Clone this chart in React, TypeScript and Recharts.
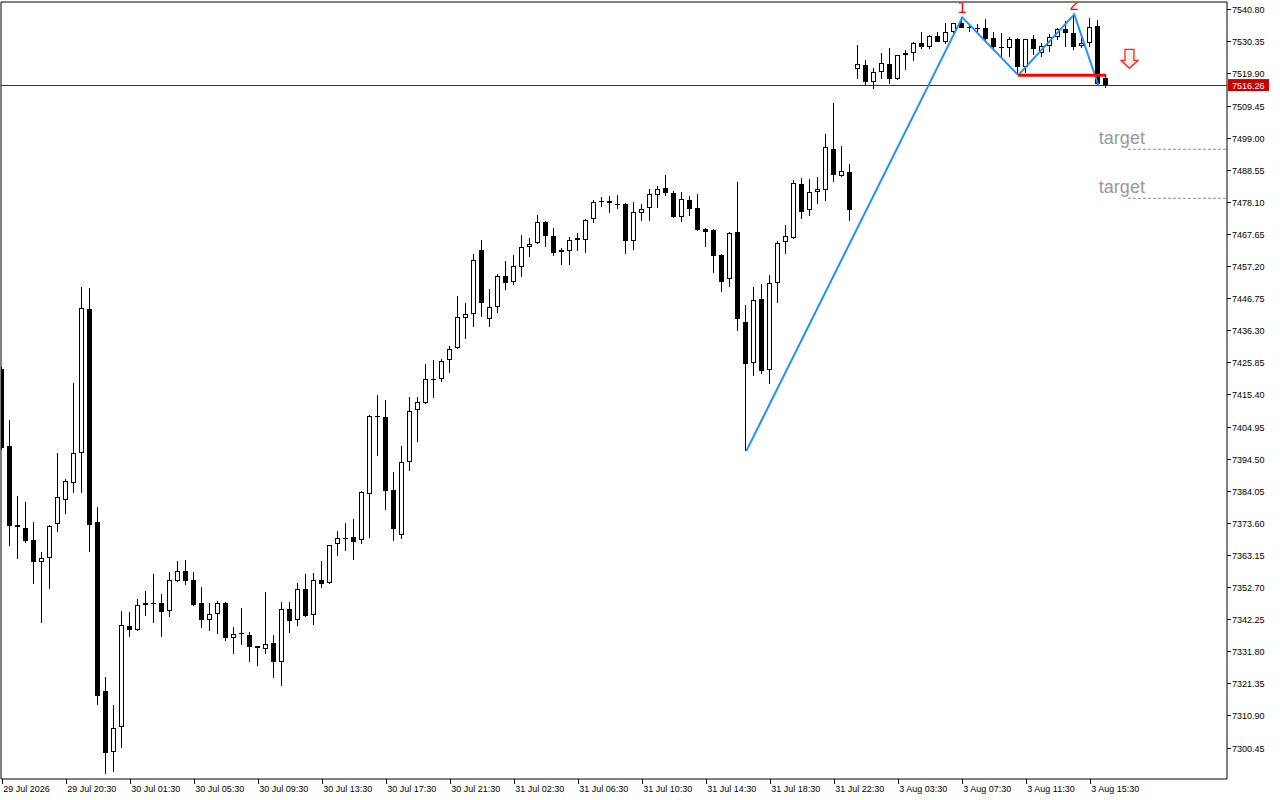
import React from 'react';
import {
  ComposedChart,
  Bar,
  Line,
  XAxis,
  YAxis,
  ReferenceLine,
  ReferenceArea,
  ReferenceDot,
} from 'recharts';

// 30-minute candles
const OPEN = [
  7423.8, 7398.8, 7373.2, 7372.1, 7368.2, 7361.1, 7362.2, 7373.3, 7381.1, 7386.6,
  7396.6, 7443.3, 7373.9, 7318.9, 7299.2, 7307.2, 7340.2, 7338.9, 7346.9, 7347.7,
  7347.7, 7345.2, 7354.9, 7358.0, 7355.0, 7347.7, 7342.2, 7344.0, 7347.7, 7336.4,
  7337.8, 7337.1, 7333.6, 7332.8, 7334.6, 7328.5, 7345.6, 7342.1, 7352.1, 7343.6,
  7355.0, 7354.1, 7366.8, 7368.9, 7369.1, 7368.1, 7383.0, 7408.5, 7408.2, 7384.4,
  7369.9, 7393.5, 7410.4, 7412.7, 7420.6, 7420.7, 7426.7, 7430.6, 7440.3, 7441.6,
  7462.5, 7440.0, 7444.1, 7454.0, 7452.1, 7456.9, 7463.5, 7464.8, 7471.6, 7467.0,
  7461.8, 7462.1, 7466.5, 7465.9, 7472.6, 7478.4, 7478.4, 7477.5, 7477.5, 7465.4,
  7474.5, 7476.2, 7480.4, 7482.7, 7481.0, 7473.4, 7478.8, 7476.2, 7469.4, 7469.1,
  7460.9, 7453.0, 7468.4, 7439.0, 7425.7, 7446.6, 7423.6, 7451.9, 7465.1, 7466.6,
  7484.0, 7475.5, 7481.4, 7482.0, 7495.5, 7486.8, 7488.0, 7521.4, 7522.8, 7517.2,
  7520.4, 7523.0, 7518.3, 7526.0, 7526.6, 7529.9, 7528.8, 7532.1, 7530.4, 7533.6,
  7536.4, 7535.1, 7534.9, 7534.8, 7531.5, 7528.8, 7528.2, 7531.2, 7522.3, 7531.2,
  7526.8, 7529.1, 7532.0, 7534.4, 7533.1, 7529.0, 7530.1, 7535.5, 7518.5,
];
const HIGH = [
  7424.5, 7407.2, 7382.5, 7380.5, 7374.0, 7364.2, 7373.0, 7396.5, 7388.0, 7419.3,
  7450.6, 7450.2, 7378.9, 7323.6, 7314.5, 7345.0, 7344.7, 7349.0, 7351.6, 7357.1,
  7350.6, 7357.6, 7361.3, 7361.7, 7357.6, 7352.9, 7347.6, 7348.3, 7347.9, 7339.8,
  7346.0, 7338.2, 7333.8, 7351.1, 7337.2, 7347.9, 7348.0, 7354.2, 7357.1, 7357.4,
  7361.3, 7366.6, 7371.1, 7373.6, 7375.0, 7384.0, 7408.9, 7415.4, 7413.7, 7390.3,
  7398.8, 7414.7, 7414.8, 7425.5, 7426.8, 7427.1, 7431.4, 7447.6, 7445.3, 7461.3,
  7465.8, 7449.9, 7454.8, 7459.0, 7460.9, 7467.5, 7466.5, 7474.1, 7471.9, 7469.6,
  7463.1, 7466.8, 7468.1, 7472.7, 7478.9, 7479.9, 7480.2, 7480.5, 7477.8, 7478.1,
  7477.6, 7482.3, 7483.3, 7487.0, 7481.7, 7481.4, 7480.1, 7480.8, 7469.8, 7469.3,
  7461.3, 7468.5, 7484.6, 7444.7, 7450.5, 7451.5, 7454.4, 7465.5, 7470.7, 7485.4,
  7486.1, 7485.7, 7486.4, 7500.3, 7510.5, 7496.4, 7490.6, 7529.3, 7524.4, 7521.7,
  7526.8, 7528.3, 7526.1, 7527.7, 7530.4, 7533.4, 7532.7, 7533.6, 7536.4, 7536.5,
  7538.3, 7535.8, 7536.0, 7537.8, 7533.4, 7533.3, 7532.0, 7531.7, 7531.4, 7532.6,
  7529.9, 7532.9, 7534.9, 7537.2, 7539.3, 7532.6, 7538.0, 7537.5, 7519.5,
];
const LOW = [
  7397.5, 7366.3, 7362.1, 7367.3, 7353.9, 7341.2, 7352.3, 7370.9, 7376.7, 7383.6,
  7383.6, 7364.4, 7314.5, 7292.1, 7292.7, 7300.4, 7336.5, 7338.7, 7343.5, 7341.2,
  7336.7, 7343.2, 7354.6, 7353.6, 7346.7, 7339.6, 7338.7, 7337.6, 7335.4, 7331.2,
  7334.1, 7328.5, 7327.2, 7331.0, 7323.3, 7320.7, 7337.8, 7340.3, 7343.2, 7340.4,
  7352.6, 7353.9, 7363.1, 7364.7, 7361.7, 7366.8, 7368.9, 7395.6, 7378.0, 7367.9,
  7368.6, 7390.7, 7400.2, 7412.4, 7414.5, 7419.6, 7422.6, 7430.5, 7433.5, 7437.6,
  7440.9, 7437.6, 7442.0, 7449.5, 7451.3, 7453.9, 7460.4, 7464.6, 7463.6, 7460.7,
  7457.7, 7457.7, 7462.3, 7461.7, 7471.5, 7476.5, 7474.7, 7476.0, 7461.4, 7462.5,
  7472.1, 7472.1, 7476.4, 7480.3, 7473.1, 7471.8, 7473.7, 7468.7, 7463.6, 7455.2,
  7449.0, 7450.6, 7436.3, 7397.1, 7421.6, 7422.1, 7418.9, 7445.4, 7461.2, 7466.1,
  7472.8, 7473.7, 7477.6, 7478.5, 7484.8, 7486.4, 7472.1, 7518.2, 7516.1, 7515.1,
  7518.2, 7516.6, 7517.9, 7521.2, 7524.1, 7528.0, 7528.1, 7530.3, 7529.7, 7533.3,
  7534.7, 7533.4, 7533.4, 7530.4, 7527.5, 7525.5, 7525.5, 7519.5, 7520.1, 7526.1,
  7525.5, 7527.1, 7530.9, 7528.8, 7527.7, 7528.2, 7528.8, 7516.3, 7515.2,
];
const CLOSE = [
  7398.1, 7372.8, 7372.5, 7367.9, 7361.1, 7362.3, 7372.7, 7382.1, 7387.4, 7396.4,
  7443.6, 7373.2, 7317.5, 7298.9, 7306.9, 7340.4, 7338.8, 7346.9, 7347.6, 7347.5,
  7344.8, 7355.0, 7358.0, 7354.9, 7347.1, 7342.2, 7344.0, 7347.7, 7336.4, 7337.5,
  7337.8, 7333.4, 7332.9, 7334.2, 7328.5, 7345.6, 7341.7, 7352.1, 7343.5, 7355.0,
  7353.9, 7366.4, 7368.7, 7368.9, 7367.6, 7383.7, 7408.5, 7408.4, 7384.2, 7371.9,
  7393.6, 7410.2, 7413.0, 7420.5, 7420.6, 7426.3, 7430.2, 7440.7, 7441.6, 7459.2,
  7445.2, 7444.1, 7454.0, 7451.9, 7457.3, 7463.5, 7464.4, 7471.6, 7467.2, 7461.7,
  7462.6, 7465.7, 7465.9, 7472.2, 7478.1, 7478.0, 7477.8, 7477.1, 7465.6, 7474.9,
  7475.8, 7480.7, 7482.3, 7481.2, 7473.4, 7479.1, 7476.0, 7469.1, 7468.5, 7460.7,
  7452.2, 7468.2, 7440.0, 7425.4, 7446.2, 7423.2, 7451.7, 7464.8, 7467.0, 7484.3,
  7475.1, 7481.4, 7482.3, 7496.0, 7486.9, 7488.2, 7475.6, 7523.1, 7517.4, 7520.4,
  7523.4, 7518.3, 7526.0, 7526.7, 7530.0, 7528.8, 7532.1, 7530.4, 7533.4, 7536.4,
  7534.9, 7534.9, 7534.9, 7531.2, 7528.6, 7528.8, 7531.4, 7522.1, 7531.2, 7527.9,
  7529.0, 7532.0, 7534.4, 7533.1, 7528.8, 7530.1, 7535.1, 7516.5, 7516.26,
];

const TIME_TICKS = [0, 8, 16, 24, 32, 40, 48, 56, 64, 72, 80, 88, 96, 104, 112, 120, 128, 136];
const TIME_LABELS = [
  '29 Jul 2026', '29 Jul 20:30', '30 Jul 01:30', '30 Jul 05:30', '30 Jul 09:30',
  '30 Jul 13:30', '30 Jul 17:30', '30 Jul 21:30', '31 Jul 02:30', '31 Jul 06:30',
  '31 Jul 10:30', '31 Jul 14:30', '31 Jul 18:30', '31 Jul 22:30', '3 Aug 03:30',
  '3 Aug 07:30', '3 Aug 11:30', '3 Aug 15:30',
];
const PRICE_TICKS = [
  7540.8, 7530.35, 7519.9, 7509.45, 7499.0, 7488.55, 7478.1, 7467.65, 7457.2, 7446.75,
  7436.3, 7425.85, 7415.4, 7404.95, 7394.5, 7384.05, 7373.6, 7363.15, 7352.7, 7342.25,
  7331.8, 7321.35, 7310.9, 7300.45,
];

// pattern drawn on top: zigzag pivots, peaks, neckline, targets
const ZIGZAG_IDX = [93, 120, 127, 134, 137];
const ZIGZAG_PRICE = [7397.1, 7538.3, 7519.5, 7539.3, 7516.3];
const PEAK_IDX = [120, 134];
const PEAK_TEXT = ['1', '2'];
const NECK_FROM = 127;
const NECK_TO = 138;
const NECK_PRICE = 7519.5;
const TARGETS = [7495.36, 7479.4];
const TARGET_FROM = 140.7;
const ARROW_AT = [140.9, 7527.9];
const LAST_PRICE = 7516.26;

const X_MIN = -0.16;
const X_MAX = 153.09;
const Y_MIN = 7290.36;
const Y_MAX = 7543.31;

const FONT = '"Liberation Sans", Arial, sans-serif';

const data = OPEN.map((o, i) => {
  const z = ZIGZAG_IDX.indexOf(i);
  return {
    i,
    open: o,
    high: HIGH[i],
    low: LOW[i],
    close: CLOSE[i],
    range: [LOW[i], HIGH[i]],
    zz: z >= 0 ? ZIGZAG_PRICE[z] : null,
  };
});

function Candle(props: any) {
  const { x, y, width, height, payload } = props;
  if (x == null || y == null) return null;
  const { open, high, low, close } = payload;
  const top = Math.min(y, y + height);
  const h = Math.abs(height);
  const span = high - low || 1;
  const py = (v: number) => top + ((high - v) / span) * h;
  const cx = Math.floor(x + width / 2) + 0.5;
  const bTop = py(Math.max(open, close));
  const bBot = py(Math.min(open, close));
  const bh = bBot - bTop;
  let body;
  if (bh < 1.5) {
    body = <rect x={cx - 2.5} y={Math.round(bTop) - 0.5} width={5} height={Math.max(1.5, bh)} fill="#000" />;
  } else if (close > open) {
    body = <rect x={cx - 2} y={bTop + 0.5} width={4} height={bh - 1} fill="#fff" stroke="#000" strokeWidth={1} />;
  } else {
    body = <rect x={cx - 2.5} y={bTop} width={5} height={bh} fill="#000" />;
  }
  return (
    <g shapeRendering="crispEdges">
      <line x1={cx} x2={cx} y1={top} y2={top + h} stroke="#000" strokeWidth={1} />
      {body}
    </g>
  );
}

function TimeTick(props: any) {
  const { x, y, payload } = props;
  const label = TIME_LABELS[TIME_TICKS.indexOf(payload.value)];
  return (
    <g>
      <line x1={x} x2={x} y1={y} y2={y + 5} stroke="#000" shapeRendering="crispEdges" />
      <text x={x + 1} y={y + 13} fontSize={9} fontFamily={FONT} fill="#000">
        {label}
      </text>
    </g>
  );
}

function PriceTick(props: any) {
  const { x, y, payload } = props;
  return (
    <g>
      <line x1={x} x2={x + 4} y1={y} y2={y} stroke="#000" shapeRendering="crispEdges" />
      <text x={x + 5} y={y + 3.5} fontSize={9} fontFamily={FONT} fill="#000">
        {Number(payload.value).toFixed(2)}
      </text>
    </g>
  );
}

function PriceTag(props: any) {
  const { viewBox } = props;
  if (!viewBox) return null;
  const x = viewBox.x + viewBox.width + 1;
  const y = viewBox.y;
  return (
    <g>
      <rect x={x} y={y - 6} width={41} height={12} fill="#c80000" />
      <text x={x + 4} y={y + 3.5} fontSize={9} fontFamily={FONT} fill="#fff">
        {LAST_PRICE.toFixed(2)}
      </text>
    </g>
  );
}

function TargetLabel(props: any) {
  const { viewBox } = props;
  if (!viewBox) return null;
  return (
    <text
      x={viewBox.x - 6}
      y={viewBox.y - 5}
      textAnchor="middle"
      fontSize={18}
      fontFamily={FONT}
      fill="#999999"
    >
      target
    </text>
  );
}

const peakShape = (text: string) => (props: any) => (
  <g>
    <defs>
      <clipPath id={`peak-clip-${text}`}>
        <rect x={0} y={2.5} width={1280} height={790} />
      </clipPath>
    </defs>
    <text
      x={props.cx}
      y={props.cy - 4.8}
      textAnchor="middle"
      fontSize={16}
      fontFamily={FONT}
      fill="#ff0000"
      clipPath={`url(#peak-clip-${text})`}
    >
      {text}
    </text>
  </g>
);

function ArrowShape(props: any) {
  const { cx, cy } = props;
  const d = `M${cx - 4.5},${cy} L${cx + 4.5},${cy} L${cx + 4.5},${cy + 11} L${cx + 8.5},${cy + 11} L${cx},${cy + 19} L${cx - 8.5},${cy + 11} L${cx - 4.5},${cy + 11} Z`;
  return <path d={d} fill="#fff1ea" stroke="#ff2020" strokeWidth={1.3} />;
}

export default function App() {
  return (
    <div style={{ position: 'absolute', left: 0, top: 0, width: 1280, height: 800, background: '#fff' }}>
      <ComposedChart
        width={1280}
        height={800}
        data={data}
        margin={{ top: 2, right: 0, bottom: 0, left: 1 }}
      >
        <XAxis
          dataKey="i"
          type="number"
          domain={[X_MIN, X_MAX]}
          allowDataOverflow
          ticks={TIME_TICKS}
          interval={0}
          height={21}
          tickSize={0}
          tickMargin={0}
          axisLine={false}
          tickLine={false}
          tick={<TimeTick />}
        />
        <YAxis
          orientation="right"
          type="number"
          domain={[Y_MIN, Y_MAX]}
          allowDataOverflow
          ticks={PRICE_TICKS}
          interval={0}
          width={53}
          tickSize={0}
          tickMargin={0}
          axisLine={false}
          tickLine={false}
          tick={<PriceTick />}
        />
        <ReferenceArea
          x1={X_MIN}
          x2={X_MAX}
          y1={Y_MIN}
          y2={Y_MAX}
          fill="none"
          fillOpacity={0}
          stroke="#000"
          strokeWidth={1}
          ifOverflow="visible"
        />
        <ReferenceLine
          y={LAST_PRICE}
          stroke="#8a1010"
          strokeWidth={1}
          shapeRendering="crispEdges"
          label={<PriceTag />}
        />
        <Bar dataKey="range" barSize={5} shape={(p: any) => <Candle {...p} />} isAnimationActive={false} />
        <Line
          dataKey="zz"
          stroke="#1e90ff"
          strokeWidth={2}
          dot={false}
          activeDot={false}
          connectNulls
          isAnimationActive={false}
        />
        <ReferenceLine
          segment={[
            { x: NECK_FROM, y: NECK_PRICE },
            { x: NECK_TO, y: NECK_PRICE },
          ]}
          stroke="#ff0000"
          strokeWidth={3}
        />
        {TARGETS.map((t) => (
          <ReferenceLine
            key={t}
            segment={[
              { x: TARGET_FROM, y: t },
              { x: X_MAX, y: t },
            ]}
            stroke="#8c8c8c"
            strokeDasharray="3 2"
            strokeWidth={1}
            label={<TargetLabel />}
          />
        ))}
        {PEAK_IDX.map((k, j) => (
          <ReferenceDot
            key={k}
            x={k}
            y={ZIGZAG_PRICE[ZIGZAG_IDX.indexOf(k)]}
            r={0}
            shape={peakShape(PEAK_TEXT[j])}
          />
        ))}
        <ReferenceDot x={ARROW_AT[0]} y={ARROW_AT[1]} r={0} shape={(p: any) => <ArrowShape {...p} />} />
      </ComposedChart>
    </div>
  );
}
